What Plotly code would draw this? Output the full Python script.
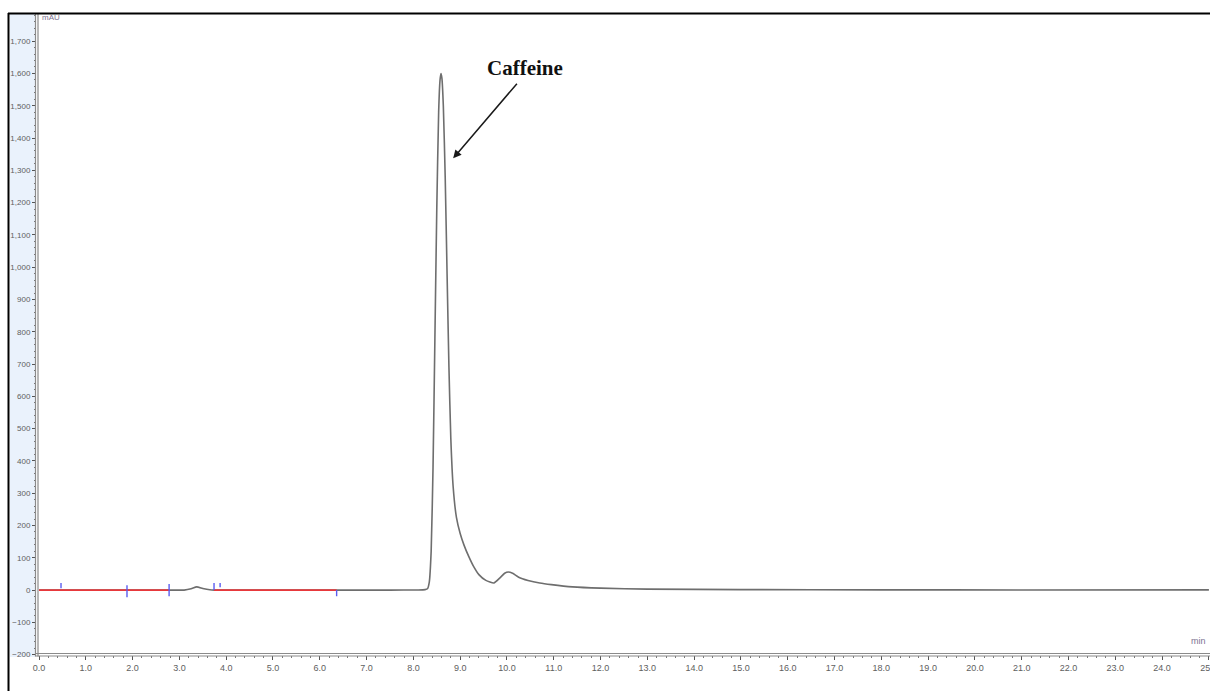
import plotly.graph_objects as go

# Chromatogram signal (retention time in min, absorbance in mAU)
time_min = [0.0, 0.5, 1.0, 2.0, 2.8, 3.1, 3.25, 3.37, 3.5, 3.65, 3.75, 4.5, 5.5, 6.5, 7.5, 8.1, 8.25,
            8.30, 8.34, 8.38, 8.42, 8.46, 8.50, 8.54, 8.57, 8.59, 8.61, 8.64, 8.68, 8.72, 8.76,
            8.80, 8.85, 8.92, 9.00, 9.08, 9.18, 9.28, 9.40, 9.55, 9.72, 9.85, 9.95, 10.03, 10.12,
            10.25, 10.45, 10.70, 10.95, 11.40, 12.0, 13.0, 15.0, 18.0, 21.0, 25.0]
signal_mau = [0, 0, 0, 0, 0, 0, 4, 10, 5, 1, 0, 0, 0, 0, 0, 0.5, 1.5,
              4, 25, 120, 380, 780, 1180, 1480, 1580, 1600, 1585, 1500, 1280, 980, 690,
              470, 320, 225, 175, 140, 105, 75, 48, 30, 22, 38, 52, 56, 52,
              40, 30, 22, 17, 10, 6, 3, 1.5, 0.8, 0.5, 0.8]

# Integration baseline segments (start, end) in min
baseline_start = [0.0, 3.74]
baseline_end = [2.78, 6.36]

# Integration event markers: time and vertical extent in mAU
marker_t = [0.47, 1.88, 2.78, 3.74, 3.87, 6.36]
marker_lo = [6, -22, -19, 0, 9, -19]
marker_hi = [22, 15, 19, 22, 22, 0]

peak_label = "Caffeine"
peak_tip = (8.85, 1337)
arrow_tail = (10.24, 1573)
label_pos = (10.38, 1617)

fig = go.Figure()

fig.add_trace(go.Scatter(x=time_min, y=signal_mau, mode="lines",
                         line=dict(color="#6e6e6e", width=1.6, shape="spline", smoothing=0.5),
                         hoverinfo="skip", showlegend=False))

bx, by = [], []
for s, e in zip(baseline_start, baseline_end):
    bx += [s, e, None]
    by += [0, 0, None]
fig.add_trace(go.Scatter(x=bx, y=by, mode="lines", line=dict(color="#e8383b", width=1.8),
                         hoverinfo="skip", showlegend=False))

mx, my = [], []
for t, lo, hi in zip(marker_t, marker_lo, marker_hi):
    mx += [t, t, None]
    my += [lo, hi, None]
fig.add_trace(go.Scatter(x=mx, y=my, mode="lines", line=dict(color="#5a5cf0", width=1.4),
                         hoverinfo="skip", showlegend=False))

x_font = dict(family="Liberation Sans, Arial", size=9, color="#5e5e5e")
y_font = dict(family="Liberation Sans, Arial", size=8, color="#5e5e5e")

fig.update_layout(
    width=1210, height=691,
    margin=dict(l=37, r=1, t=15, b=36),
    paper_bgcolor="white", plot_bgcolor="white",
    xaxis=dict(range=[-0.043, 25.002], dtick=1, tick0=0, tickformat=".1f", automargin=False,
               showgrid=False, zeroline=False, showline=False, ticklabeloverflow="allow",
               ticks="outside", ticklen=4, tickcolor="#555555", tickwidth=1,
               minor=dict(dtick=0.2, ticks="outside", ticklen=2, tickcolor="#777777", showgrid=False),
               tickfont=x_font),
    yaxis=dict(range=[-201, 1781], dtick=100, tick0=0, tickformat=",d", automargin=False,
               showgrid=False, zeroline=False, showline=False, ticklabeloverflow="allow",
               ticks="outside", ticklen=4, tickcolor="#555555", tickwidth=1,
               minor=dict(dtick=20, ticks="outside", ticklen=2, tickcolor="#777777", showgrid=False),
               tickfont=y_font),
)

W, H = 1172.0, 640.0
def px(x):
    return (x - 37) / W
def py(y):
    return (655 - y) / H

shapes = [
    # shaded y-axis panel
    dict(type="rect", xref="paper", yref="paper", x0=px(10), x1=px(35.5), y0=py(657), y1=py(14),
         fillcolor="#eaf2fc", line=dict(width=0), layer="below"),
    # double axis lines
    dict(type="line", xref="paper", yref="paper", x0=px(35.5), x1=px(35.5), y0=py(656.5), y1=py(14),
         line=dict(color="#8a8a8a", width=1.2)),
    dict(type="line", xref="paper", yref="paper", x0=px(38), x1=px(38), y0=py(656.5), y1=py(14),
         line=dict(color="#8a8a8a", width=1.2)),
    dict(type="line", xref="paper", yref="paper", x0=px(35.5), x1=px(1210), y0=py(653.5), y1=py(653.5),
         line=dict(color="#8a8a8a", width=1.2)),
    dict(type="line", xref="paper", yref="paper", x0=px(35.5), x1=px(1210), y0=py(656), y1=py(656),
         line=dict(color="#8a8a8a", width=1.2)),
    # outer frame
    dict(type="line", xref="paper", yref="paper", x0=px(8.5), x1=px(8.5), y0=py(691), y1=py(13),
         line=dict(color="black", width=2)),
    dict(type="line", xref="paper", yref="paper", x0=px(8), x1=px(1210), y0=py(13.5), y1=py(13.5),
         line=dict(color="black", width=2)),
]
fig.update_layout(shapes=shapes)

fig.add_annotation(x=peak_tip[0], y=peak_tip[1], ax=arrow_tail[0], ay=arrow_tail[1],
                   xref="x", yref="y", axref="x", ayref="y", text="",
                   showarrow=True, arrowhead=2, arrowsize=1.1, arrowwidth=1.5, arrowcolor="#1a1a1a")
fig.add_annotation(x=label_pos[0], y=label_pos[1], xref="x", yref="y", text="<b>" + peak_label + "</b>",
                   showarrow=False, font=dict(family="Liberation Serif, Times New Roman", size=21, color="#111111"))
fig.add_annotation(x=px(40), y=py(11), xref="paper", yref="paper", text="mAU", showarrow=False,
                   xanchor="left", yanchor="top", font=dict(family="Liberation Sans, Arial", size=8, color="#7d7290"))
fig.add_annotation(x=px(1208), y=py(641), xref="paper", yref="paper", text="min", showarrow=False,
                   xanchor="right", yanchor="middle", font=dict(family="Liberation Sans, Arial", size=9, color="#7d7290"))

fig.write_html("out.html")
